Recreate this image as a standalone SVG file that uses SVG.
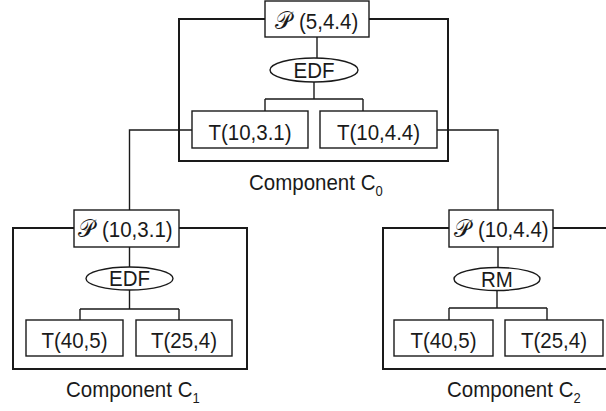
<svg xmlns="http://www.w3.org/2000/svg" width="606" height="411" viewBox="0 0 606 411">
<style>
.frame{fill:none;stroke:#1a1a1a;stroke-width:2}
.box{fill:#fff;stroke:#1a1a1a;stroke-width:1.4}
.ell{fill:#fff;stroke:#1a1a1a;stroke-width:1.4}
.con{fill:none;stroke:#1a1a1a;stroke-width:1.4}
text{font-family:"Liberation Sans",Arial,sans-serif;font-size:20.5px;fill:#1a1a1a}
.mid{text-anchor:middle}
.cal{font-family:"DejaVu Serif","Noto Sans",serif;font-size:23px}
.sub{font-size:13px;fill:#1a1a1a}
</style>
<rect width="606" height="411" fill="#fff"/>
<g id="frames">
<rect id="frame-c0" class="frame" x="179" y="19" width="269" height="142"/>
<rect id="frame-c1" class="frame" x="13" y="228" width="234" height="141"/>
<rect id="frame-c2" class="frame" x="383" y="228" width="234" height="141"/>
</g>
<g id="connectors">
<path class="con" d="M317 37V58M314 82V99M265 99H363M265 99V111M363 99V111"/>
<path class="con" d="M192 130H129.5V210M437 130H498V210"/>
<path class="con" d="M129.5 247V267M129.5 290V309M80 309H179M80 309V320M179 309V320"/>
<path class="con" d="M498 247V268M497 290V308M449 308H547M449 308V320M547 308V320"/>
</g>
<g id="p0"><rect class="box" x="265" y="1" width="104" height="36"/><text class="cal" transform="translate(275 29) scale(1 1.05)">𝒫</text><text transform="translate(299 29) scale(1 1.08)">(5,4.4)</text></g>
<g id="sched0"><ellipse class="ell" cx="314" cy="70" rx="44" ry="12"/><text class="mid" transform="translate(314 77.5) scale(1 1.08)">EDF</text></g>
<g id="t0a"><rect class="box" x="192" y="111" width="116" height="37"/><text class="mid" transform="translate(250 139.5) scale(1 1.08)">T(10,3.1)</text></g>
<g id="t0b"><rect class="box" x="320" y="111" width="117" height="37"/><text class="mid" transform="translate(378.5 139.5) scale(1 1.08)">T(10,4.4)</text></g>
<g id="label0"><text transform="translate(249 190) scale(1 1.08)">Component C<tspan class="sub" dy="6">0</tspan></text></g>

<g id="p1"><rect class="box" x="74" y="210" width="105" height="37"/><text class="cal" transform="translate(78 237) scale(1 1.05)">𝒫</text><text transform="translate(102 237) scale(1 1.08)">(10,3.1)</text></g>
<g id="sched1"><ellipse class="ell" cx="129.5" cy="278.5" rx="43.5" ry="11.5"/><text class="mid" transform="translate(129.5 286) scale(1 1.08)">EDF</text></g>
<g id="t1a"><rect class="box" x="26" y="320" width="97" height="36"/><text class="mid" transform="translate(74.5 347.5) scale(1 1.08)">T(40,5)</text></g>
<g id="t1b"><rect class="box" x="136" y="320" width="96" height="36"/><text class="mid" transform="translate(184 347.5) scale(1 1.08)">T(25,4)</text></g>
<g id="label1"><text transform="translate(66 397) scale(1 1.08)">Component C<tspan class="sub" dy="6">1</tspan></text></g>

<g id="p2"><rect class="box" x="449" y="210" width="104" height="37"/><text class="cal" transform="translate(454 237) scale(1 1.05)">𝒫</text><text transform="translate(478 237) scale(1 1.08)">(10,4.4)</text></g>
<g id="sched2"><ellipse class="ell" cx="497" cy="279" rx="43" ry="11.5"/><text class="mid" transform="translate(497 286.5) scale(1 1.08)">RM</text></g>
<g id="t2a"><rect class="box" x="394" y="320" width="99" height="36"/><text class="mid" transform="translate(443.5 347.5) scale(1 1.08)">T(40,5)</text></g>
<g id="t2b"><rect class="box" x="505" y="320" width="98" height="36"/><text class="mid" transform="translate(554 347.5) scale(1 1.08)">T(25,4)</text></g>
<g id="label2"><text transform="translate(447 397) scale(1 1.08)">Component C<tspan class="sub" dy="6">2</tspan></text></g>
</svg>
